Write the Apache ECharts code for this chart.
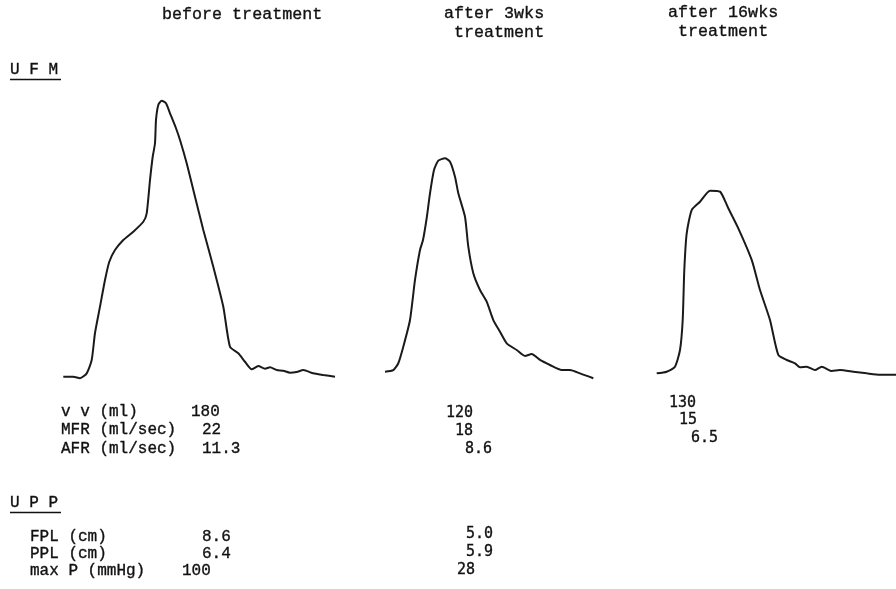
<!DOCTYPE html>
<html><head><meta charset="utf-8">
<script src="https://cdn.jsdelivr.net/npm/echarts@6/dist/echarts.min.js"></script>
<style>html,body{margin:0;padding:0;background:#fff}#c{width:896px;height:589px}</style>
</head><body><div id="c"></div>
<script>
// ---- data ----
const columnTitles = ['before treatment', 'after 3wks\n treatment', 'after 16wks\n treatment'];
// uroflowmetry curves: [time (s), flow (ml/sec)]
const flowBefore = [[0.33,0.10],[1.33,0.10],[2.0,-0.02],[2.67,0.37],[3.17,1.43],[3.5,3.57],[4.0,5.66],[4.5,7.78],[4.93,9.23],[5.5,10.16],[6.33,10.95],[7.33,11.61],[8.33,12.40],[8.67,13.07],[9.0,15.71],[9.27,17.56],[9.5,18.63],[9.6,20.48],[9.83,21.67],[10.17,22.01],[10.6,21.80],[11.0,21.01],[11.6,19.82],[12.0,18.89],[12.67,17.04],[13.5,14.39],[14.33,11.75],[15.33,8.83],[16.33,5.66],[17.0,2.48],[17.83,1.96],[18.5,1.29],[19.17,0.69],[19.83,0.95],[20.5,0.74],[21.0,0.85],[21.67,0.63],[22.33,0.58],[23.0,0.42],[23.67,0.48],[24.33,0.63],[25.33,0.37],[26.33,0.24],[27.5,0.10]];
const flow3wks = [[0.5,0.50],[1.33,0.63],[1.83,1.17],[2.33,2.48],[3.0,4.60],[3.5,7.78],[4.0,10.16],[4.3,10.95],[4.67,12.70],[5.0,14.66],[5.4,16.51],[5.83,17.25],[6.5,17.44],[7.0,17.17],[7.5,15.98],[7.83,14.66],[8.5,12.80],[8.83,10.42],[9.33,8.31],[10.0,6.98],[10.67,6.06],[11.33,4.60],[12.0,3.67],[12.67,2.75],[13.67,2.22],[14.5,1.75],[15.17,1.90],[16.0,1.43],[17.0,1.03],[18.17,0.63],[19.0,0.63],[20.0,0.37],[21.33,-0.02]];
const flow16wks = [[0.67,0.37],[1.67,0.50],[2.5,0.90],[3.0,2.22],[3.27,4.60],[3.43,8.57],[3.67,11.48],[4.17,13.33],[5.0,13.99],[6.0,14.87],[7.0,14.79],[7.83,13.47],[8.83,11.88],[10.17,9.37],[11.0,6.98],[12.0,4.60],[12.83,1.83],[13.67,1.43],[14.5,1.17],[15.0,0.85],[15.67,0.90],[16.5,0.63],[17.17,0.90],[18.17,0.56],[19.0,0.63],[20.33,0.50],[21.67,0.37],[23.0,0.26],[24.6,0.26]];
const ufmTitle = 'U F M';
const ufmLabels = ['v v (ml)', 'MFR (ml/sec)', 'AFR (ml/sec)'];
const ufmBefore = ['180', '22', '11.3'];
const ufm3wks = ['120', '18', '8.6'];
const ufm16wks = ['130', '15', '6.5'];
const uppTitle = 'U P P';
const uppLabels = ['FPL (cm)', 'PPL (cm)', 'max P (mmHg)'];
const uppBefore = ['8.6', '6.4', '100'];
const upp3wks = ['5.0', '5.9', '28'];

// ---- chart ----
const chart = echarts.init(document.getElementById('c'));
const mono = '"Liberation Mono", monospace';
const sansMono = '"DejaVu Sans Mono", monospace';
const grids = [
  {left: 60, width: 280, top: 75.6, height: 315},
  {left: 380, width: 220, top: 75.6, height: 315},
  {left: 650, width: 246, top: 75.6, height: 315}
];
const xMax = [28, 22, 24.6];
const curves = [flowBefore, flow3wks, flow16wks];

function txt(x, y, s, opt) {
  return Object.assign({type: 'text', x: x, y: y, silent: true,
    style: Object.assign({text: s, font: '16.7px ' + mono, fill: '#111', stroke: '#111', lineWidth: 0.35, textVerticalAlign: 'middle'}, opt || {})});
}
const lab = {font: '16px ' + mono};
const num = {font: '15px ' + sansMono};
const g = [];
// column titles
g.push(txt(162, 15, columnTitles[0]));
const t1 = columnTitles[1].split('\n'), t2 = columnTitles[2].split('\n');
g.push(txt(444, 14, t1[0])); g.push(txt(444, 33, t1[1]));
g.push(txt(668, 13, t2[0])); g.push(txt(668, 32, t2[1]));
// section headers
g.push(txt(10, 70, ufmTitle, lab));
g.push({type: 'line', shape: {x1: 10, y1: 79.5, x2: 61, y2: 79.5}, style: {stroke: '#111', lineWidth: 1.5}});
g.push(txt(10, 503, uppTitle, lab));
g.push({type: 'line', shape: {x1: 10, y1: 512.5, x2: 61, y2: 512.5}, style: {stroke: '#111', lineWidth: 1.5}});
// UFM table
const ufmY = [412, 430, 449];
const ufmColX = [[191, 202, 202], [446, 455, 465], [669, 679, 691]];
const ufmColY = [ufmY, [413, 431, 449], [403, 420, 438]];
const ufmCols = [ufmBefore, ufm3wks, ufm16wks];
ufmLabels.forEach((s, i) => g.push(txt(61, ufmY[i], s, lab)));
ufmCols.forEach((col, c) => col.forEach((s, i) => g.push(txt(ufmColX[c][i], ufmColY[c][i], s, c === 0 ? lab : num))));
// UPP table
const uppY = [537, 554, 571];
uppLabels.forEach((s, i) => g.push(txt(30, uppY[i], s, lab)));
const uppBx = [202, 202, 182];
uppBefore.forEach((s, i) => g.push(txt(uppBx[i], uppY[i], s, lab)));
const upp3x = [466, 466, 457];
const upp3y = [534, 552, 570];
upp3wks.forEach((s, i) => g.push(txt(upp3x[i], upp3y[i], s, num)));

chart.setOption({
  backgroundColor: '#fff',
  animation: false,
  grid: grids,
  xAxis: grids.map((_, i) => ({type: 'value', gridIndex: i, min: 0, max: xMax[i], show: false})),
  yAxis: grids.map((_, i) => ({type: 'value', gridIndex: i, min: -1, max: 24, show: false})),
  series: curves.map((d, i) => ({
    type: 'line', xAxisIndex: i, yAxisIndex: i, data: d, smooth: 0.2, symbol: 'none',
    lineStyle: {color: '#1a1a1a', width: 2}
  })),
  graphic: g
});
</script></body></html>
